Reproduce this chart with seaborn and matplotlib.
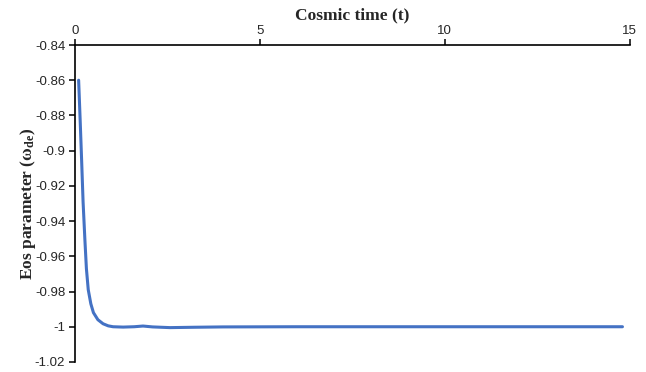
import matplotlib
matplotlib.use("Agg")
import matplotlib.pyplot as plt
import seaborn as sns
import pandas as pd

# Cosmic time and dark-energy equation-of-state parameter
cosmic_time = [0.10, 0.14, 0.18, 0.22, 0.27, 0.31, 0.36, 0.43, 0.50, 0.62, 0.76, 0.90,
               1.03, 1.30, 1.60, 1.84, 2.10, 2.57, 3.20, 4.00, 6.00, 8.00, 10.00, 12.00, 14.80]
eos_param = [-0.860, -0.882, -0.905, -0.929, -0.951, -0.967, -0.979, -0.987, -0.992, -0.9960, -0.9983, -0.9995,
             -1.0000, -1.0002, -1.0000, -0.9996, -1.0001, -1.0005, -1.0003, -1.0001, -1.0000, -1.0000, -1.0000, -1.0000, -1.0000]

y_ticks = [-0.84, -0.86, -0.88, -0.9, -0.92, -0.94, -0.96, -0.98, -1, -1.02]
x_ticks = [0, 5, 10, 15]

df = pd.DataFrame({"t": cosmic_time, "w": eos_param})

sns.set_theme(style="white")
plt.rcParams["font.family"] = ["Liberation Sans", "DejaVu Sans"]
plt.rcParams["mathtext.fontset"] = "custom"
plt.rcParams["mathtext.rm"] = "Liberation Serif"
plt.rcParams["mathtext.bf"] = "Liberation Serif:bold"
plt.rcParams["mathtext.it"] = "Liberation Serif:italic"

fig = plt.figure(figsize=(6.46, 3.72), dpi=100)
ax = fig.add_axes([0.116, 0.027, 0.859, 0.852])

sns.lineplot(data=df, x="t", y="w", ax=ax, color="#4472C4", linewidth=2.2)

ax.set_xlim(0, 15)
ax.set_ylim(-1.02, -0.84)
ax.set_xticks(x_ticks)
ax.set_xticklabels([str(v) for v in x_ticks])
ax.set_yticks(y_ticks)
ax.set_yticklabels([f"{v:g}" for v in y_ticks])

ax.xaxis.tick_top()
ax.xaxis.set_label_position("top")
for side in ("right", "bottom"):
    ax.spines[side].set_visible(False)
for side in ("top", "left"):
    ax.spines[side].set_visible(True)
    ax.spines[side].set_color("black")
    ax.spines[side].set_linewidth(1.2)

ax.tick_params(axis="x", direction="out", length=4, width=1.1, color="black",
               labelsize=9.5, pad=2, top=True, bottom=False)
ax.tick_params(axis="y", direction="out", length=4, width=1.1, color="black",
               labelsize=9.5, pad=3, left=True)

ax.set_xlabel("Cosmic time (t)", family=["Liberation Serif"], fontweight="bold",
              fontsize=12.5, labelpad=4)
ax.set_ylabel(r"Eos parameter ($\mathbf{\omega_{de}}$)", family=["Liberation Serif"],
              fontweight="bold", fontsize=12.5, labelpad=-2)

fig.savefig("out.png", dpi=100, facecolor="white")
